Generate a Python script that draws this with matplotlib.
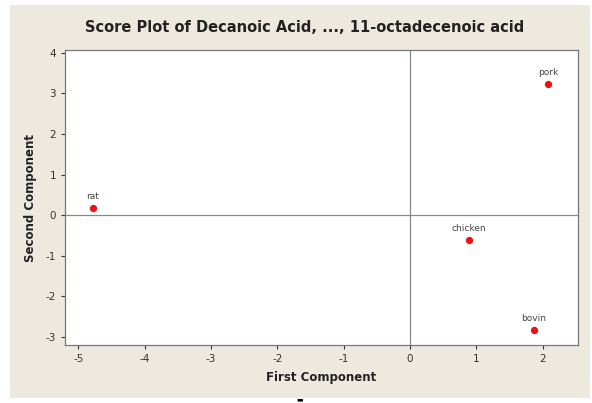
import matplotlib
matplotlib.use("Agg")
import matplotlib.pyplot as plt
from matplotlib.patches import Rectangle

plt.rcParams['axes.unicode_minus'] = False

# score values
labels = ['rat', 'pork', 'chicken', 'bovin']
pc1 = [-4.78, 2.08, 0.89, 1.86]
pc2 = [0.17, 3.23, -0.62, -2.83]
xticks = [-5, -4, -3, -2, -1, 0, 1, 2]
yticks = [-3, -2, -1, 0, 1, 2, 3, 4]

beige = '#ede9df'
fig = plt.figure(figsize=(5.92, 4.03), dpi=100)
fig.patch.set_facecolor('white')
fig.patches.append(Rectangle((10/592, 5/403), 580/592, 393/403, transform=fig.transFigure,
                             facecolor=beige, edgecolor='none', zorder=-10))

ax = fig.add_axes([65/592, 58/403, 513/592, 295/403])
ax.set_facecolor('white')
ax.axhline(0, color='#888888', lw=0.9, zorder=1)
ax.axvline(0, color='#888888', lw=0.9, zorder=1)
ax.scatter(pc1, pc2, color='#ee1111', s=18, zorder=3)
for name, x, y in zip(labels, pc1, pc2):
    ax.annotate(name, (x, y), xytext=(0, 5), textcoords='offset points',
                ha='center', va='bottom', fontsize=6.5, color='#444444')

ax.set_xlim(-5.2, 2.53)
ax.set_ylim(-3.2, 4.07)
ax.set_xticks(xticks)
ax.set_yticks(yticks)
ax.tick_params(labelsize=7.5, colors='#333333', length=3, width=0.8)
for s in ax.spines.values():
    s.set_color('#777777')
    s.set_linewidth(0.9)

ax.set_xlabel('First Component', fontsize=8.5, fontweight='bold', color='#222222', labelpad=5)
ax.set_ylabel('Second Component', fontsize=8.5, fontweight='bold', color='#222222', labelpad=6)
fig.text(305/592, 1 - 27/403, 'Score Plot of Decanoic Acid, ..., 11-octadecenoic acid',
         ha='center', va='center', fontsize=10.5, fontweight='bold', color='#222222')
fig.text(300/592, 1 - 399/403, '\u25ac', ha='center', va='center', fontsize=5, color='black')

fig.savefig('out.png', dpi=100, facecolor=fig.get_facecolor())
